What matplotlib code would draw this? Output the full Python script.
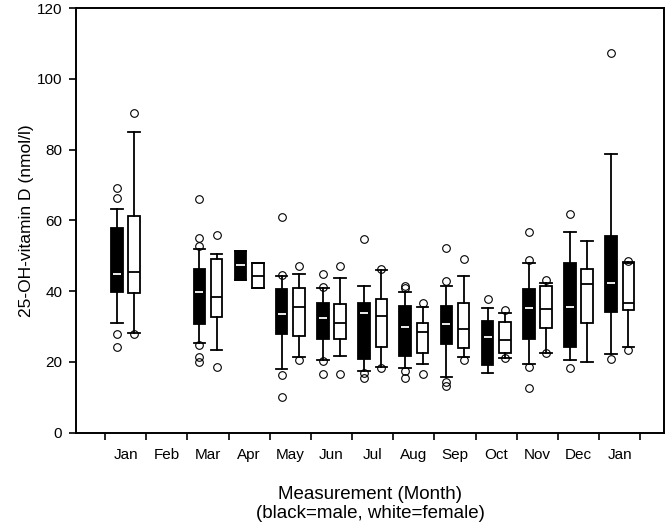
import numpy as np
import matplotlib
matplotlib.use('Agg')
from matplotlib import pyplot as plt

plt.rcParams['font.family'] = ['Liberation Sans', 'DejaVu Sans']

months = ['Jan', 'Feb', 'Mar', 'Apr', 'May', 'Jun', 'Jul', 'Aug', 'Sep', 'Oct', 'Nov', 'Dec', 'Jan']

# male (black boxes); None = no measurements that month
male_q1 = [39.8, None, 30.6, 43.1, 28.0, 26.4, 20.8, 21.8, 25.0, 19.1, 26.4, 24.3, 34.0]
male_med = [45.0, None, 39.7, 47.3, 33.5, 32.5, 33.7, 30.0, 30.7, 27.1, 35.2, 35.5, 42.4]
male_q3 = [57.8, None, 46.3, 51.3, 40.7, 36.8, 36.6, 35.9, 35.9, 31.6, 40.6, 48.0, 55.6]
male_lo = [31.1, None, 25.3, 43.1, 17.9, 20.5, 17.5, 18.2, 15.8, 17.0, 19.4, 20.5, 22.2]
male_hi = [63.1, None, 51.9, 51.3, 44.3, 40.8, 41.5, 39.8, 41.5, 35.2, 47.9, 56.7, 78.9]
male_out = [
    [69.2, 66.4, 27.8, 24.3],
    [],
    [52.7, 54.9, 66.0, 24.8, 21.3, 20.1],
    [],
    [44.5, 60.9, 16.3, 10.0],
    [41.3, 44.9, 20.3, 16.5],
    [54.8, 16.8, 15.5],
    [40.8, 41.5, 17.5, 15.5],
    [42.9, 52.1, 14.4, 13.2],
    [37.7],
    [48.8, 56.6, 18.5, 12.5],
    [61.8, 18.4],
    [107.2, 20.9],
]

# female (white boxes)
fem_q1 = [39.6, None, 32.8, 40.8, 27.3, 26.4, 24.1, 22.6, 24.0, 22.4, 29.7, 30.9, 34.7]
fem_med = [45.5, None, 38.4, 44.4, 35.6, 31.1, 33.0, 28.5, 29.3, 26.2, 35.0, 41.9, 36.7]
fem_q3 = [61.2, None, 49.0, 48.0, 40.8, 36.3, 37.7, 31.1, 36.6, 31.2, 41.5, 46.3, 48.1]
fem_lo = [28.3, None, 23.4, 40.8, 21.3, 21.6, 18.5, 19.3, 21.5, 21.2, 22.4, 20.1, 24.3]
fem_hi = [85.0, None, 50.5, 48.0, 44.8, 43.8, 46.0, 35.6, 44.3, 33.7, 42.2, 54.3, 48.3]
fem_out = [
    [90.5, 28.0],
    [],
    [55.9, 18.6],
    [],
    [47.1, 20.5],
    [47.2, 16.5],
    [46.3, 18.3],
    [36.7, 16.6],
    [49.1, 20.5],
    [34.7, 21.2],
    [43.1, 22.4],
    [],
    [48.5, 23.4],
]


def make_stats(q1, med, q3, lo, hi, out):
    stats, idx = [], []
    for i in range(len(q1)):
        if q1[i] is None:
            continue
        stats.append(dict(q1=q1[i], med=med[i], q3=q3[i], whislo=lo[i],
                          whishi=hi[i], fliers=out[i]))
        idx.append(i)
    return stats, np.array(idx)


fig = plt.figure(figsize=(6.68, 5.28), dpi=100)
ax = fig.add_axes([0.1138, 0.1805, 0.880, 0.804])

off, width = 0.21, 0.28
flier = dict(marker='o', markerfacecolor='none', markeredgecolor='black',
             markersize=5.5, markeredgewidth=0.8, linestyle='none')
line = dict(color='black', linewidth=1.3)

for (q1, med, q3, lo, hi, out), sign, fill, medc in [
        ((male_q1, male_med, male_q3, male_lo, male_hi, male_out), -1, 'black', 'white'),
        ((fem_q1, fem_med, fem_q3, fem_lo, fem_hi, fem_out), 1, 'white', 'black')]:
    stats, idx = make_stats(q1, med, q3, lo, hi, out)
    res = ax.bxp(stats, positions=idx + sign * off, widths=width, patch_artist=True,
                 boxprops=dict(facecolor=fill, edgecolor='black', linewidth=1.3),
                 whiskerprops=line, capprops=line, capwidths=width,
                 medianprops=dict(color=medc, linewidth=1.3), flierprops=flier,
                 manage_ticks=False)
    # white medians sit inset inside the black boxes
    for m in res['medians']:
        x0, x1 = m.get_xdata()[0], m.get_xdata()[1]
        shrink = 0.15 * (x1 - x0) if fill == 'black' else 0.0
        m.set_xdata([x0 + shrink, x1 - shrink])

ax.set_xlim(-1.204, 13.07)
ax.set_ylim(0, 120)
ax.set_yticks(np.arange(0, 121, 20))
ax.set_xticks(np.arange(-0.5, 13, 1.0))
ax.set_xticklabels([])
ax.set_xticks(np.arange(13), minor=True)
ax.set_xticklabels(months, minor=True)
ax.tick_params(axis='x', which='minor', length=0, pad=11, labelsize=11)
ax.tick_params(axis='x', which='major', direction='out', length=5, width=1.2)
ax.tick_params(axis='y', direction='out', length=5, width=1.2, pad=5, labelsize=11)
for s in ax.spines.values():
    s.set_linewidth(1.4)

ax.set_ylabel('25-OH-vitamin D (nmol/l)', fontsize=12.5, labelpad=2)
ax.set_xlabel('Measurement (Month)\n(black=male, white=female)', fontsize=13.5,
              labelpad=17, linespacing=1.15)

fig.savefig('out.png', dpi=100)
